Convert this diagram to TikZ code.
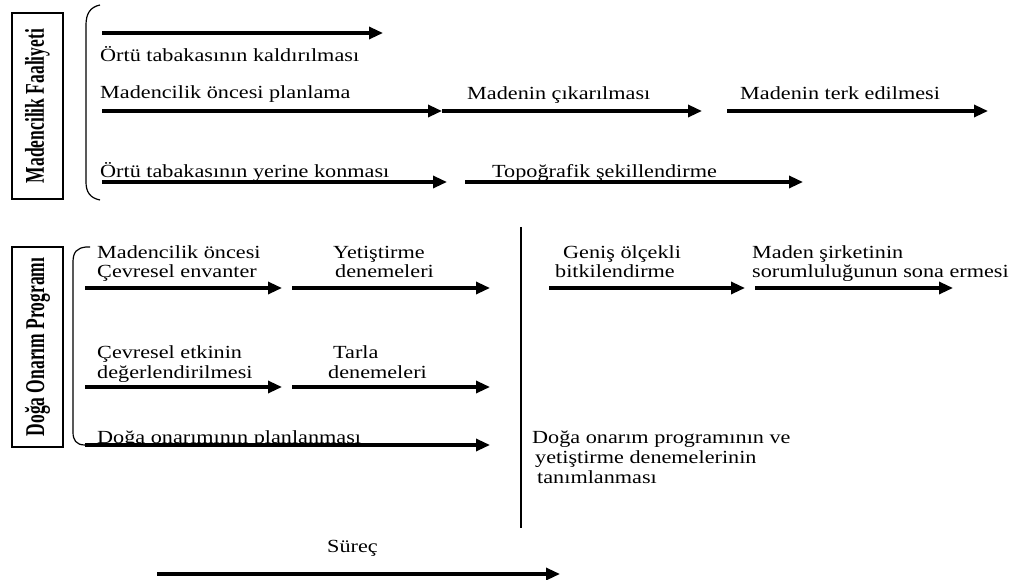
\documentclass[tikz,border=0pt]{standalone}
\usepackage{fontspec}
\setmainfont[FakeStretch=1.2]{Liberation Serif}
\newfontfamily\sidefont{Liberation Serif}
\usetikzlibrary{arrows.meta}
\tikzset{
  flow/.style={line width=3.2pt, -{Triangle[length=14pt,width=12pt]}},
  lbl/.style={anchor=base west, inner sep=0pt, font=\fontsize{18.5}{22}\selectfont},
  sidebox/.style={draw, line width=1.4pt, rotate=90, minimum width=#1,
                  minimum height=51pt, inner sep=0pt},
  brace/.style={line width=1.2pt},
  divider/.style={line width=1.8pt},
}
\newcommand\sidetext[1]{\scalebox{1}[1.55]{\fontsize{17.5}{20}\sidefont\bfseries #1}}
\begin{document}
\begin{tikzpicture}[x=1pt, y=-1pt]
\useasboundingbox (0,0) rectangle (1010,580);

% ---------- mining activity ----------
\node[sidebox=186pt] (mf) at (37.5,106) {\sidetext{Madencilik Faaliyeti}};
\draw[brace] (100,5) .. controls (90,7) and (86,14) .. (86,25) -- (86,182)
   .. controls (86,192) and (90,198) .. (100,200);

\coordinate (a1s) at (102,33);  \coordinate (a1e) at (383,33);
\coordinate (a2s) at (102,111); \coordinate (a2e) at (442,111);
\coordinate (a3e) at (702,111);
\coordinate (a4s) at (727,111); \coordinate (a4e) at (988,111);
\coordinate (a5s) at (102,182); \coordinate (a5e) at (447,182);
\coordinate (a6s) at (465,182); \coordinate (a6e) at (803,182);

\draw[flow] (a1s) -- (a1e);
\draw[flow] (a2s) -- (a2e);
\draw[flow] (a2e) -- (a3e);
\draw[flow] (a4s) -- (a4e);
\draw[flow] (a5s) -- (a5e);
\draw[flow] (a6s) -- (a6e);

\node[lbl] (t1) at (100,62)  {Örtü tabakasının kaldırılması};
\node[lbl] (t2) at (100,99)  {Madencilik öncesi planlama};
\node[lbl] (t3) at (467,100) {Madenin çıkarılması};
\node[lbl] (t4) at (740,100) {Madenin terk edilmesi};
\node[lbl] (t5) at (100,178) {Örtü tabakasının yerine konması};
\node[lbl] (t6) at (492,178) {Topoğrafik şekillendirme};

% ---------- reclamation programme ----------
\node[sidebox=200pt] (dop) at (37.5,347) {\sidetext{Doğa Onarım Programı}};

\coordinate (b1s) at (85,288);  \coordinate (b1e) at (282,288);
\coordinate (b2s) at (292,288); \coordinate (b2e) at (490,288);
\coordinate (b3s) at (85,387);  \coordinate (b3e) at (282,387);
\coordinate (b4s) at (292,387); \coordinate (b4e) at (490,387);
\coordinate (b5s) at (85,445);  \coordinate (b5e) at (490,445);

\draw[brace] (90,247) -- (86,247) .. controls (77,248) and (73,252) .. (73,262)
   -- (73,432) .. controls (73,440) and (76,445) .. (b5s);

\draw[flow] (b1s) -- (b1e);
\draw[flow] (b2s) -- (b2e);
\draw[flow] (b3s) -- (b3e);
\draw[flow] (b4s) -- (b4e);
\draw[flow] (b5s) -- (b5e);

\node[lbl] (u1a) at (97,259)  {Madencilik öncesi};
\node[lbl] (u1b) at (97,278)  {Çevresel envanter};
\node[lbl] (u2a) at (333,259) {Yetiştirme};
\node[lbl] (u2b) at (335,278) {denemeleri};
\node[lbl] (u3a) at (97,358)  {Çevresel etkinin};
\node[lbl] (u3b) at (97,378)  {değerlendirilmesi};
\node[lbl] (u4a) at (333,358) {Tarla};
\node[lbl] (u4b) at (328,378) {denemeleri};
\node[lbl] (u5)  at (97,443)  {Doğa onarımının planlanması};

% divider between the phases
\coordinate (dvt) at (521,227); \coordinate (dvb) at (521,528);
\draw[divider] (dvt) -- (dvb);

\coordinate (c1s) at (549,288); \coordinate (c1e) at (745,288);
\coordinate (c2s) at (755,288); \coordinate (c2e) at (953,288);
\draw[flow] (c1s) -- (c1e);
\draw[flow] (c2s) -- (c2e);

\node[lbl] (v1a) at (563,259) {Geniş ölçekli};
\node[lbl] (v1b) at (555,278) {bitkilendirme};
\node[lbl] (v2a) at (752,259) {Maden şirketinin};
\node[lbl] (v2b) at (752,278) {sorumluluğunun sona ermesi};

\node[lbl] (w1) at (532,443) {Doğa onarım programının ve};
\node[lbl] (w2) at (535,463) {yetiştirme denemelerinin};
\node[lbl] (w3) at (537,483) {tanımlanması};

% time axis
\node[lbl] (sur) at (327,552) {Süreç};
\coordinate (zs) at (157,574); \coordinate (ze) at (560,574);
\draw[flow] (zs) -- (ze);
\end{tikzpicture}
\end{document}
